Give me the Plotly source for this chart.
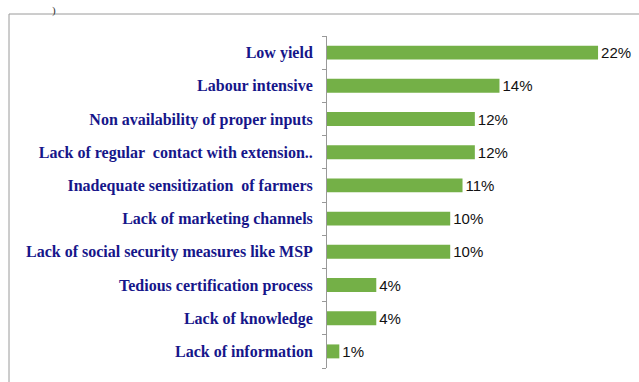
import plotly.graph_objects as go

categories = [
    "Low yield",
    "Labour intensive",
    "Non availability of proper inputs",
    "Lack of regular  contact with extension..",
    "Inadequate sensitization  of farmers",
    "Lack of marketing channels",
    "Lack of social security measures like MSP",
    "Tedious certification process",
    "Lack of knowledge",
    "Lack of information",
]
values = [22, 14, 12, 12, 11, 10, 10, 4, 4, 1]
value_labels = [f"{v}%" for v in values]

fig = go.Figure()
fig.add_trace(go.Bar(
    y=categories, x=values, orientation="h",
    marker=dict(color="#74B047", line=dict(width=0)),
    text=value_labels, textposition="outside",
    textfont=dict(family="Liberation Sans Narrow, Liberation Sans", size=15, color="#111111"),
    constraintext="none",
    cliponaxis=False,
    width=0.42,
))

fig.update_layout(
    width=639, height=382,
    margin=dict(l=327, r=12, t=36, b=14),
    paper_bgcolor="white", plot_bgcolor="white",
    showlegend=False,
    xaxis=dict(range=[0, 24.35], visible=False, showgrid=False, zeroline=False),
    yaxis=dict(
        autorange="reversed", tickson="boundaries",
        ticks="outside", ticklen=4, tickcolor="#999999",
        showline=True, linecolor="#999999", linewidth=1,
        showgrid=False,
        tickfont=dict(family="Liberation Serif", size=16, color="#16168A"),
        ticklabelstandoff=10,
    ),
    font=dict(family="Liberation Serif"),
)

fig.update_yaxes(ticktext=[f"<b>{c}</b>" for c in categories], tickvals=categories)

fig.add_shape(type="rect", xref="paper", yref="paper",
              x0=(9 - 327) / 300, x1=1.2, y0=-0.2, y1=1 + (36 - 14) / 332,
              line=dict(color="#9A9A9A", width=1), fillcolor="rgba(0,0,0,0)", layer="below")

fig.add_annotation(text=")", xref="paper", yref="paper",
                   x=(50 - 327) / 300, y=1 + (36 - 2) / 332, showarrow=False,
                   font=dict(family="Liberation Serif", size=11, color="#333"))

fig.write_html("out.html")
